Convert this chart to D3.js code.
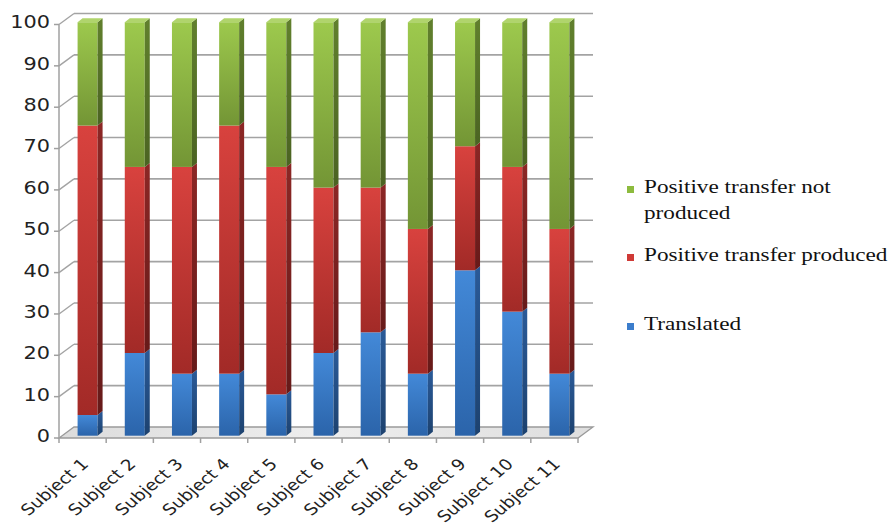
<!DOCTYPE html>
<html>
<head>
<meta charset="utf-8">
<script src="https://cdn.jsdelivr.net/npm/d3@7/dist/d3.min.js"></script>
<style>
  html, body { margin: 0; padding: 0; background: #fff; }
  svg { display: block; }
</style>
</head>
<body>
<svg id="chart" width="894" height="530"></svg>
<script>
// ---- data ----
const subjects = ["Subject 1", "Subject 2", "Subject 3", "Subject 4", "Subject 5", "Subject 6",
                  "Subject 7", "Subject 8", "Subject 9", "Subject 10", "Subject 11"];
const translated          = [5, 20, 15, 15, 10, 20, 25, 15, 40, 30, 15];
const transferProduced    = [70, 45, 50, 60, 55, 40, 35, 35, 30, 35, 35];
const transferNotProduced = [25, 35, 35, 25, 35, 40, 40, 50, 30, 35, 50];
const seriesNames = ["Translated", "Positive transfer produced", "Positive transfer not produced"];
const yTickValues = [0, 10, 20, 30, 40, 50, 60, 70, 80, 90, 100];

// ---- layout ----
const SX = 1.19;                 // horizontal text stretch
const plotLeft = 59, plotRight = 578;
const floorY = 438, topY = 24.5;
const DX = 15, DY = -11;         // depth of the chart box
const BX = 5, BY = -2.3;         // bar front face offset into the box
const BW = 20;                   // bar width
const SDX = 5, SDY = -4;         // bar depth

const svg = d3.select("#chart");

const x = d3.scaleBand().domain(subjects).range([plotLeft, plotRight]).padding(0);
const y = d3.scaleLinear().domain([0, 100]).range([floorY, topY]);

const table = subjects.map((s, i) => ({
  subject: s,
  "Translated": translated[i],
  "Positive transfer produced": transferProduced[i],
  "Positive transfer not produced": transferNotProduced[i]
}));
const stacked = d3.stack().keys(seriesNames)(table);

// colours per series: front top/bottom, side top/bottom, top face, legend
const palette = {
  "Translated":                     { ft: "#4389d8", fb: "#2b64aa", st: "#2a5a98", sb: "#1d426f", top: "#6aa2e0", key: "#3b7dcc" },
  "Positive transfer produced":     { ft: "#d8423e", fb: "#a22a27", st: "#8c2725", sb: "#661a19", top: "#e2625e", key: "#cf3a36" },
  "Positive transfer not produced": { ft: "#9dc94d", fb: "#739535", st: "#61802d", sb: "#4b6322", top: "#b0d46c", key: "#8dbb3e" }
};

const defs = svg.append("defs");
seriesNames.forEach((name, i) => {
  const c = palette[name];
  const gf = defs.append("linearGradient").attr("id", "front" + i)
    .attr("x1", 0).attr("y1", 0).attr("x2", 0).attr("y2", 1);
  gf.append("stop").attr("offset", "0%").attr("stop-color", c.ft);
  gf.append("stop").attr("offset", "100%").attr("stop-color", c.fb);
  const gs = defs.append("linearGradient").attr("id", "side" + i)
    .attr("x1", 0).attr("y1", 0).attr("x2", 0).attr("y2", 1);
  gs.append("stop").attr("offset", "0%").attr("stop-color", c.st);
  gs.append("stop").attr("offset", "100%").attr("stop-color", c.sb);
});
const gFloor = defs.append("linearGradient").attr("id", "floorFill")
  .attr("x1", 0).attr("y1", 0).attr("x2", 1).attr("y2", 0);
gFloor.append("stop").attr("offset", "0%").attr("stop-color", "#dcdcdc");
gFloor.append("stop").attr("offset", "50%").attr("stop-color", "#eeeeee");
gFloor.append("stop").attr("offset", "100%").attr("stop-color", "#dedede");

const gridColor = "#a3a3a3";

// ---- back wall and side wall gridlines ----
const grid = svg.append("g");
yTickValues.filter(v => v > 0).forEach(v => {
  grid.append("line")
    .attr("x1", plotLeft + DX).attr("x2", plotRight + DX)
    .attr("y1", y(v) + DY).attr("y2", y(v) + DY)
    .attr("stroke", gridColor).attr("stroke-width", 1.6);
  grid.append("line")
    .attr("x1", plotLeft).attr("y1", y(v))
    .attr("x2", plotLeft + DX).attr("y2", y(v) + DY)
    .attr("stroke", gridColor).attr("stroke-width", 1.4);
});

// ---- floor ----
svg.append("polygon")
  .attr("points", [
    [plotLeft, floorY], [plotRight, floorY],
    [plotRight + DX, floorY + DY], [plotLeft + DX, floorY + DY]
  ].map(p => p.join(",")).join(" "))
  .attr("fill", "url(#floorFill)")
  .attr("stroke", "#9a9a9a").attr("stroke-width", 1.3);

// ---- bars ----
const barsG = svg.append("g");
const barLeft = d => x(d) + (x.bandwidth() - BW) / 2 + BX;
subjects.forEach((s, j) => {
  const L = barLeft(s);
  stacked.forEach((layer, i) => {
    const seg = layer[j];
    const yt = y(seg[1]) + BY, yb = y(seg[0]) + BY;
    if (yb - yt <= 0) return;
    barsG.append("rect")
      .attr("x", L).attr("y", yt).attr("width", BW).attr("height", yb - yt)
      .attr("fill", `url(#front${i})`);
    barsG.append("polygon")
      .attr("points", [[L + BW, yt], [L + BW + SDX, yt + SDY], [L + BW + SDX, yb + SDY], [L + BW, yb]]
        .map(p => p.join(",")).join(" "))
      .attr("fill", `url(#side${i})`);
    if (i === stacked.length - 1) {
      barsG.append("polygon")
        .attr("points", [[L, yt], [L + SDX, yt + SDY], [L + BW + SDX, yt + SDY], [L + BW, yt]]
          .map(p => p.join(",")).join(" "))
        .attr("fill", palette[layer.key].top);
    }
  });
});

// ---- value axis ----
const axisColor = "#a0a0a0";
svg.append("line")
  .attr("x1", plotLeft).attr("x2", plotLeft)
  .attr("y1", y(100)).attr("y2", floorY)
  .attr("stroke", axisColor).attr("stroke-width", 1.5);
const yAxisG = svg.append("g");
yTickValues.forEach(v => {
  yAxisG.append("line")
    .attr("x1", plotLeft - 5).attr("x2", plotLeft)
    .attr("y1", y(v)).attr("y2", y(v))
    .attr("stroke", axisColor).attr("stroke-width", 1.5);
  yAxisG.append("text")
    .attr("transform", `translate(${plotLeft - 9},${y(v) - 2}) scale(${SX},1)`)
    .attr("text-anchor", "end")
    .attr("dominant-baseline", "central")
    .attr("font-family", "DejaVu Sans, Verdana, sans-serif")
    .attr("font-size", 17.5)
    .attr("fill", "#222")
    .text(v);
});

// ---- category axis ----
const xAxisG = svg.append("g");
d3.range(subjects.length + 1).forEach(k => {
  const tx = plotLeft + k * x.step();
  xAxisG.append("line")
    .attr("x1", tx).attr("x2", tx)
    .attr("y1", floorY).attr("y2", floorY + 5)
    .attr("stroke", axisColor).attr("stroke-width", 1.5);
});
subjects.forEach(s => {
  const cx = x(s) + x.bandwidth() / 2;
  xAxisG.append("text")
    .attr("transform", `translate(${cx + 7},${floorY + 27}) scale(${SX},1) rotate(-45)`)
    .attr("text-anchor", "end")
    .attr("font-family", "DejaVu Sans, Verdana, sans-serif")
    .attr("font-size", 15.5)
    .attr("fill", "#222")
    .text(s);
});

// ---- legend ----
const legendItems = [
  { key: "Positive transfer not produced", lines: ["Positive transfer not", "produced"], y: 193 },
  { key: "Positive transfer produced", lines: ["Positive transfer produced"], y: 261 },
  { key: "Translated", lines: ["Translated"], y: 330 }
];
const legend = svg.append("g");
legendItems.forEach(item => {
  legend.append("rect")
    .attr("x", 627).attr("y", item.y - 7).attr("width", 7).attr("height", 7)
    .attr("fill", palette[item.key].key);
  item.lines.forEach((ln, li) => {
    legend.append("text")
      .attr("transform", `translate(644,${item.y + li * 26}) scale(${SX},1)`)
      .attr("font-family", "Liberation Serif, Times New Roman, serif")
      .attr("font-size", 19.5)
      .attr("fill", "#111")
      .text(ln);
  });
});
</script>
</body>
</html>
